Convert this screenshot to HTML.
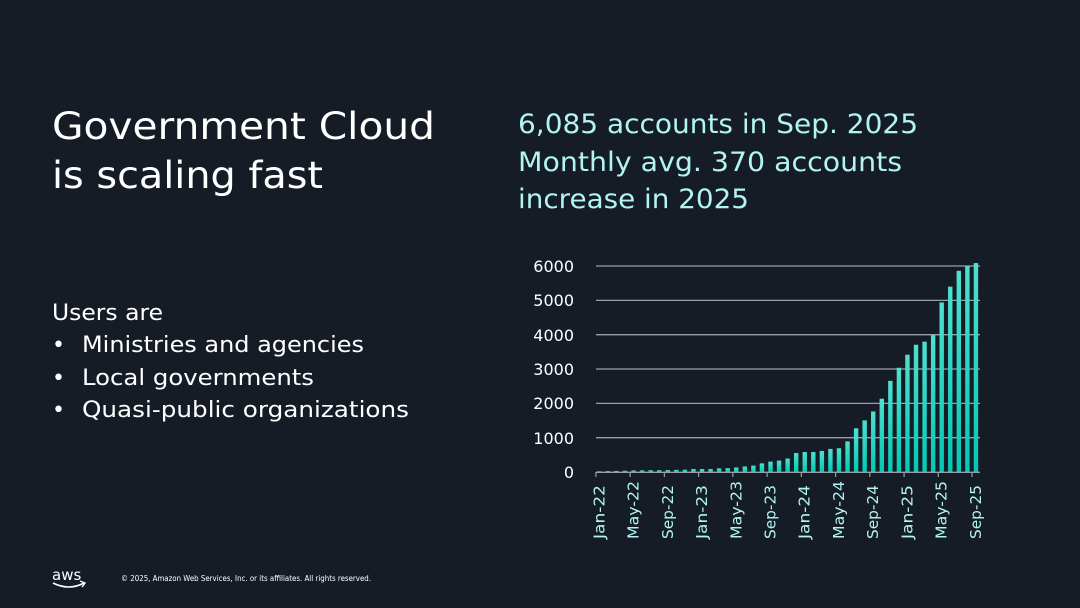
<!DOCTYPE html>
<html><head><meta charset="utf-8"><style>
html,body{margin:0;padding:0;background:#161c26;}
svg{display:block}
</style></head><body>
<svg width="1080" height="608" viewBox="0 0 1080 608" xmlns="http://www.w3.org/2000/svg" font-family="DejaVu Sans, Liberation Sans, sans-serif">
<defs><linearGradient id="g" x1="0" y1="0" x2="0" y2="1"><stop offset="0" stop-color="#4fe0cf"/><stop offset="1" stop-color="#00c9b5"/></linearGradient></defs>
<rect width="1080" height="608" fill="#161c26"/>
<g fill="#ffffff" font-size="37">
<text x="52" y="139" textLength="383" lengthAdjust="spacingAndGlyphs">Government Cloud</text>
<text x="52" y="188" textLength="271" lengthAdjust="spacingAndGlyphs">is scaling fast</text>
</g>
<g fill="#b0f5ef" font-size="27">
<text x="518" y="133" textLength="400" lengthAdjust="spacingAndGlyphs">6,085 accounts in Sep. 2025</text>
<text x="518" y="171" textLength="384" lengthAdjust="spacingAndGlyphs">Monthly avg. 370 accounts</text>
<text x="518" y="208" textLength="231" lengthAdjust="spacingAndGlyphs">increase in 2025</text>
</g>
<g fill="#ffffff" font-size="22">
<text x="52" y="320" textLength="111" lengthAdjust="spacingAndGlyphs">Users are</text>
<text x="52" y="352">•</text><text x="82" y="352" textLength="282" lengthAdjust="spacingAndGlyphs">Ministries and agencies</text>
<text x="52" y="385">•</text><text x="82" y="385" textLength="232" lengthAdjust="spacingAndGlyphs">Local governments</text>
<text x="52" y="417">•</text><text x="82" y="417" textLength="327" lengthAdjust="spacingAndGlyphs">Quasi-public organizations</text>
</g>
<g stroke="#9aa0a8" stroke-width="1.3">
<line x1="596" x2="980" y1="266" y2="266"/>
<line x1="596" x2="980" y1="300.4" y2="300.4"/>
<line x1="596" x2="980" y1="334.7" y2="334.7"/>
<line x1="596" x2="980" y1="369" y2="369"/>
<line x1="596" x2="980" y1="403.4" y2="403.4"/>
<line x1="596" x2="980" y1="437.7" y2="437.7"/>
</g>
<g fill="#ffffff" font-size="16" text-anchor="end">
<text x="574" y="272">6000</text><text x="574" y="306">5000</text><text x="574" y="341">4000</text>
<text x="574" y="375">3000</text><text x="574" y="409">2000</text><text x="574" y="444">1000</text><text x="574" y="478">0</text>
</g>
<g id="bars" fill="url(#g)"></g>
<line x1="596" x2="980" y1="472.3" y2="472.3" stroke="#9aa0a8" stroke-width="1.3"/>
<g id="ticks" stroke="#9aa0a8" stroke-width="1.2"></g>
<g id="xl" fill="#b0f5ef" font-size="15"></g>
<g fill="#ffffff">
<text x="52" y="580" font-size="15">aws</text>
<path d="M53 583 Q69 591 84 583" stroke="#fff" stroke-width="1.6" fill="none"/>
<path d="M80 581 L85 583 L82 587" stroke="#fff" stroke-width="1.4" fill="none"/>
<text x="121" y="581" font-size="7.5" textLength="250" lengthAdjust="spacingAndGlyphs">© 2025, Amazon Web Services, Inc. or its affiliates. All rights reserved.</text>
</g>
<script>
var v=[30,35,40,45,55,55,60,60,65,70,75,95,95,95,115,120,140,170,195,260,310,340,400,560,590,590,620,680,700,900,1280,1510,1770,2140,2660,3040,3420,3710,3800,3990,4940,5400,5860,6000,6085];
var ns="http://www.w3.org/2000/svg",b=document.getElementById('bars'),t=document.getElementById('ticks'),xl=document.getElementById('xl');
var m=['Jan-22','May-22','Sep-22','Jan-23','May-23','Sep-23','Jan-24','May-24','Sep-24','Jan-25','May-25','Sep-25'];
for(var i=0;i<45;i++){var cx=599.3+i*8.56,h=v[i]*206.3/6000;
var r=document.createElementNS(ns,'rect');r.setAttribute('x',cx-2.2);r.setAttribute('width',4.4);r.setAttribute('y',472.3-h);r.setAttribute('height',h);b.appendChild(r);
if(i%4==0){var tx=cx-3.4;if(i==44)tx=cx-4;var l=document.createElementNS(ns,'line');l.setAttribute('x1',tx);l.setAttribute('x2',tx);l.setAttribute('y1',472);l.setAttribute('y2',477);t.appendChild(l);
var tt=document.createElementNS(ns,'text');tt.setAttribute('transform','translate('+(cx+5)+',539) rotate(-90)');tt.setAttribute('textLength',m[i/4].charAt(0)=='M'?'58':'54');tt.setAttribute('lengthAdjust','spacingAndGlyphs');tt.textContent=m[i/4];xl.appendChild(tt);}}
</script>
</svg>
</body></html>
